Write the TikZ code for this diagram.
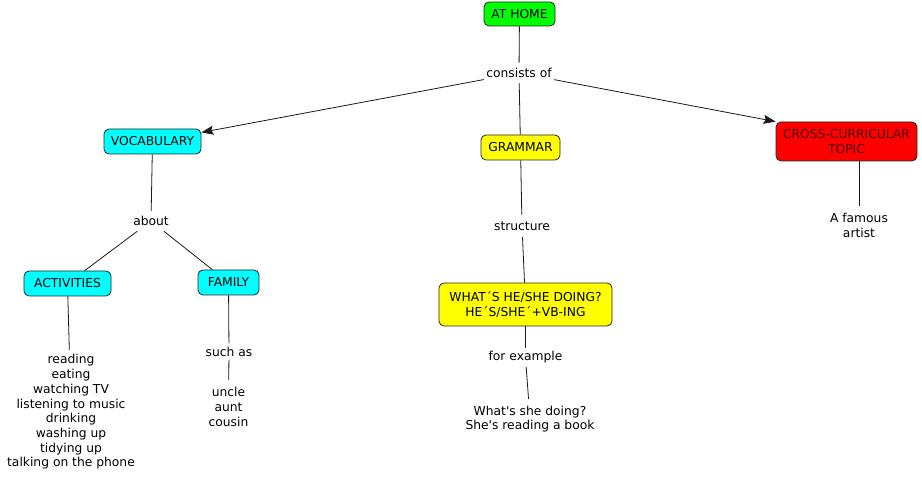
\documentclass[tikz,border=0pt]{standalone}
\usepackage{fontspec}
\setmainfont{DejaVu Sans}
\usetikzlibrary{arrows.meta}
\definecolor{cgreen}{HTML}{00FF00}
\definecolor{ccyan}{HTML}{00FFFF}
\definecolor{cyellow}{HTML}{FFFF00}
\definecolor{cred}{HTML}{FF0000}
\begin{document}
\begin{tikzpicture}[x=1pt,y=-1pt,
  every node/.style={font=\fontsize{12.3}{14.7}\selectfont, align=center, text=black},
  concept/.style={draw=black!85, rounded corners=5pt, line width=0.8pt, inner sep=0pt},
  linkword/.style={inner sep=0pt},
  conn/.style={line width=0.8pt, draw=black!90},
  arr/.style={conn, -{Stealth[length=12pt,width=9pt,inset=2pt]}}
]
\useasboundingbox (0,0) rectangle (922,478);
% concepts
\node[concept, fill=cgreen, minimum width=71pt, minimum height=24pt] (home) at (519.5,14) {AT HOME};
\node[concept, fill=ccyan, minimum width=97pt, minimum height=25pt] (vocab) at (152.5,141.5) {VOCABULARY};
\node[concept, fill=cyellow, minimum width=79pt, minimum height=25pt] (gram) at (520.5,147.5) {GRAMMAR};
\node[concept, fill=cred, minimum width=141pt, minimum height=39pt, text=black!70!red] (cross) at (846.5,141.5) {CROSS-CURRICULAR\\TOPIC};
\node[concept, fill=ccyan, minimum width=87pt, minimum height=25pt] (act) at (67.5,283.5) {ACTIVITIES};
\node[concept, fill=ccyan, minimum width=61pt, minimum height=25pt] (fam) at (228.5,282.5) {FAMILY};
\node[concept, fill=cyellow, minimum width=173pt, minimum height=43pt] (what) at (525.5,304.5) {WHAT´S HE/SHE DOING?\\HE´S/SHE´+VB-ING};
% link words and leaf texts
\node[linkword, minimum width=70pt, minimum height=20pt] (cons) at (519,73) {consists of};
\node[linkword, minimum width=40pt, minimum height=20pt] (about) at (151,221) {about};
\node[linkword, minimum width=62pt, minimum height=22pt] (struct) at (522,226) {structure};
\node[linkword, minimum width=80pt, minimum height=19pt] (forex) at (525.5,357.5) {for example};
\node[linkword, minimum width=52pt, minimum height=16pt] (such) at (229,351.5) {such as};
\node[linkword, minimum height=38pt] (artist) at (859,225.5) {A famous\\artist};
\node[linkword, minimum height=40pt] (ex) at (530,419) {What\textquotesingle s she doing?\\She\textquotesingle s reading a book};
\node[linkword, minimum height=124pt] (list) at (71,412) {reading\\eating\\watching TV\\listening to music\\drinking\\washing up\\tidying up\\talking on the phone};
\node[linkword, minimum height=54pt] (rel) at (228.5,407) {uncle\\aunt\\cousin};
% connectors
\draw[conn] (home) -- (cons);
\draw[arr] (cons) -- (vocab);
\draw[conn] (cons) -- (gram);
\draw[arr] (cons) -- (cross.north west);
\draw[conn] (vocab) -- (about);
\draw[conn] (about) -- (act);
\draw[conn] (about) -- (fam);
\draw[conn] (act) -- (list);
\draw[conn] (fam) -- (such);
\draw[conn] (such) -- (rel);
\draw[conn] (gram) -- (struct);
\draw[conn] (struct) -- (what);
\draw[conn] (what) -- (forex);
\draw[conn] (forex) -- (ex);
\draw[conn] (cross.south -| artist) -- (artist);
\end{tikzpicture}
\end{document}
